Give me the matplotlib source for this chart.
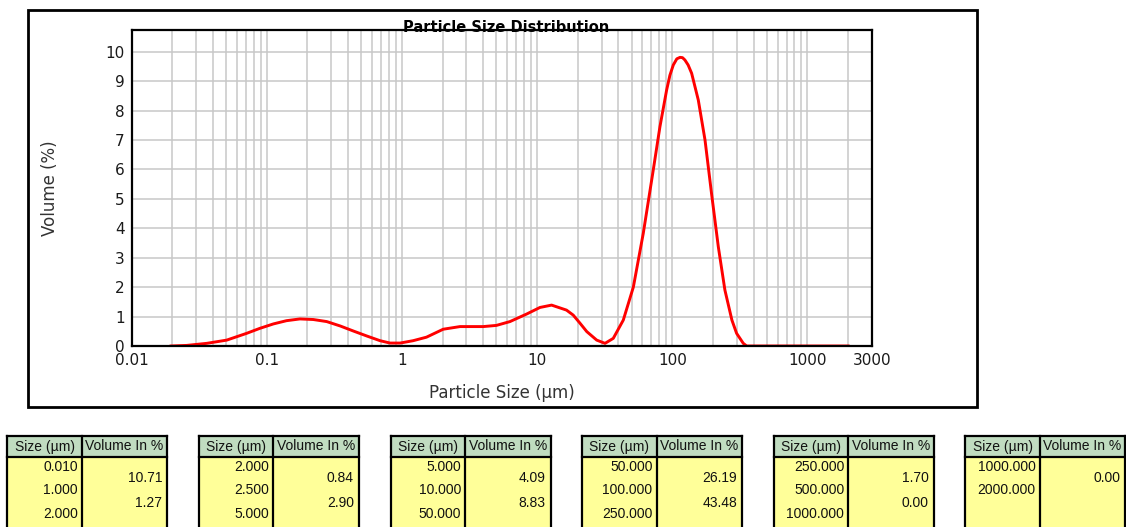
import numpy as np
import matplotlib
matplotlib.use("Agg")
from matplotlib import pyplot as plt
from matplotlib.patches import Rectangle
from matplotlib.lines import Line2D
from matplotlib.ticker import FixedLocator, NullFormatter

# particle size (um) and volume (%)
size_um = [0.0196, 0.0256, 0.036, 0.0506, 0.071, 0.089, 0.112, 0.14, 0.176, 0.221,
           0.278, 0.35, 0.437, 0.55, 0.69, 0.817, 0.97, 1.21, 1.52, 2.02,
           2.69, 4.0, 5.0, 6.3, 8.4, 10.5, 12.8, 16.5, 18.5, 20.8,
           23.3, 27.6, 31.8, 36.6, 43.4, 51.5, 61.0, 72.3, 81.0, 90.8,
           96.0, 101.7, 108.0, 114.0, 119.0, 124.0, 131.0, 139.0, 155.7, 174.6,
           195.0, 219.0, 245.0, 276.0, 299.0, 335.0, 355.0, 2000.0]
volume_pct = [0.0, 0.02, 0.09, 0.2, 0.43, 0.6, 0.75, 0.86, 0.92, 0.9,
              0.83, 0.68, 0.51, 0.34, 0.18, 0.1, 0.1, 0.18, 0.3, 0.57,
              0.66, 0.66, 0.7, 0.83, 1.09, 1.31, 1.39, 1.22, 1.05, 0.77,
              0.49, 0.2, 0.09, 0.26, 0.88, 2.0, 3.83, 5.98, 7.45, 8.7,
              9.2, 9.55, 9.76, 9.81, 9.8, 9.72, 9.55, 9.27, 8.36, 7.0,
              5.19, 3.37, 1.9, 0.88, 0.43, 0.09, 0.0, 0.0]

x_ticks = [0.01, 0.1, 1, 10, 100, 1000, 3000]
x_tick_labels = ["0.01", "0.1", "1", "10", "100", "1000", "3000"]
y_ticks = list(range(0, 11))

# summary tables under the chart
table_sizes = [["0.010", "1.000", "2.000"],
               ["2.000", "2.500", "5.000"],
               ["5.000", "10.000", "50.000"],
               ["50.000", "100.000", "250.000"],
               ["250.000", "500.000", "1000.000"],
               ["1000.000", "2000.000"]]
table_volumes = [["10.71", "1.27"],
                 ["0.84", "2.90"],
                 ["4.09", "8.83"],
                 ["26.19", "43.48"],
                 ["1.70", "0.00"],
                 ["0.00"]]

W, H = 1126, 527
fig = plt.figure(figsize=(W / 100, H / 100), dpi=100)

def fx(px):
    return px / W

def fy(py):
    return 1 - py / H

# outer frame of the chart
fig.patches.append(Rectangle((fx(28), fy(407)), fx(977) - fx(28), fy(10) - fy(407),
                             transform=fig.transFigure, fill=False, edgecolor="black",
                             linewidth=2))

ax = fig.add_axes([fx(131.5), fy(346), fx(872) - fx(131.5), fy(30) - fy(346)])
ax.plot(size_um, volume_pct, color="#ff0000", linewidth=2.1, solid_joinstyle="round")
ax.set_xscale("log")
ax.set_xlim(0.01, 3000)
ax.set_ylim(0, 10.74)

minor = [m * 10.0 ** e for e in range(-2, 4) for m in range(2, 10) if m * 10.0 ** e < 3000]
ax.xaxis.set_major_locator(FixedLocator(x_ticks))
ax.xaxis.set_minor_locator(FixedLocator(minor))
ax.xaxis.set_minor_formatter(NullFormatter())
ax.set_xticklabels(x_tick_labels)
ax.set_yticks(y_ticks)
ax.grid(True, which="both", axis="x", color="#c8c8c8", linewidth=1.1)
ax.grid(True, which="major", axis="y", color="#c8c8c8", linewidth=1.1)
ax.set_axisbelow(True)
ax.tick_params(which="both", length=0)
ax.tick_params(axis="x", pad=5, labelsize=11, labelcolor="#1a1a1a")
ax.tick_params(axis="y", pad=5, labelsize=11, labelcolor="#1a1a1a")
for s in ax.spines.values():
    s.set_linewidth(1.6)
    s.set_color("black")

ax.set_xlabel("Particle Size (\u00b5m)", fontsize=12, color="#333333", va="center")
ax.xaxis.set_label_coords(0.5, -0.149)
ax.set_ylabel("Volume (%)", fontsize=12, color="#333333", va="center")
ax.yaxis.set_label_coords(-0.110, 0.5)

fig.text(fx(506), fy(32), "Particle Size Distribution", ha="center", va="baseline",
         fontsize=10.5, fontweight="bold")

# tables
tfont = dict(family=["Liberation Sans", "DejaVu Sans"], fontsize=10, color="#111111")
left0, step = 7.3, 191.6
size_w, vol_w = 74.5, 85.5
top, head_bot, bottom = 436, 456.7, 535
for i in range(len(table_sizes)):
    x0 = left0 + i * step
    x1 = x0 + size_w
    x2 = x1 + vol_w
    fig.patches.append(Rectangle((fx(x0), fy(head_bot)), fx(x2) - fx(x0), fy(top) - fy(head_bot),
                                 transform=fig.transFigure, facecolor="#c0dcc0", edgecolor="none"))
    fig.patches.append(Rectangle((fx(x0), fy(bottom)), fx(x2) - fx(x0), fy(head_bot) - fy(bottom),
                                 transform=fig.transFigure, facecolor="#ffff99", edgecolor="none"))
    for (xa, ya, xb, yb) in [(x0, top, x0, bottom), (x2, top, x2, bottom), (x1, top, x1, bottom),
                             (x0, top, x2, top), (x0, head_bot, x2, head_bot)]:
        fig.lines.append(Line2D([fx(xa), fx(xb)], [fy(ya), fy(yb)], transform=fig.transFigure,
                                color="black", linewidth=1.6))
    fig.text(fx((x0 + x1) / 2), fy(446.5), "Size (\u00b5m)", ha="center", va="center", **tfont)
    fig.text(fx((x1 + x2) / 2), fy(446.5), "Volume In %", ha="center", va="center", **tfont)
    for j, s in enumerate(table_sizes[i]):
        fig.text(fx(x1 - 4), fy(467 + j * 23.3), s, ha="right", va="center", **tfont)
    for j, v in enumerate(table_volumes[i]):
        fig.text(fx(x2 - 5), fy(478.5 + j * 24.5), v, ha="right", va="center", **tfont)

fig.savefig("out.png", dpi=100)
